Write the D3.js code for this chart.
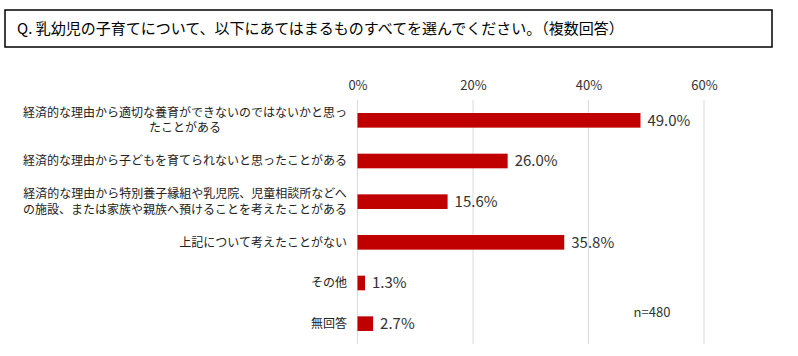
<!DOCTYPE html>
<html><head><meta charset="utf-8">
<script src="https://cdn.jsdelivr.net/npm/d3@7"></script>
<style>body{margin:0;background:#fff;} svg{display:block;}</style>
</head><body>
<svg id="c" width="798" height="356"></svg>
<script>
const titleText = "Q. 乳幼児の子育てについて、以下にあてはまるものすべてを選んでください。（複数回答）";
const categories = [
  ["経済的な理由から適切な養育ができないのではないかと思っ", "たことがある"],
  ["経済的な理由から子どもを育てられないと思ったことがある"],
  ["経済的な理由から特別養子縁組や乳児院、児童相談所などへ", "の施設、または家族や親族へ預けることを考えたことがある"],
  ["上記について考えたことがない"],
  ["その他"],
  ["無回答"]
];
const values = [49.0, 26.0, 15.6, 35.8, 1.3, 2.7];
const tickValues = [0, 20, 40, 60];
const noteText = "n=480";

const font = "'Noto Sans CJK JP','Noto Sans',sans-serif";
const svg = d3.select("#c");

// title box
svg.append("rect").attr("x",5).attr("y",10).attr("width",767).attr("height",37)
  .attr("fill","#fff").attr("stroke","#000").attr("stroke-width",1.5);
svg.append("text").attr("x",17).attr("y",34).attr("font-family",font)
  .attr("font-size",15).attr("fill","#000").text(titleText);

const x = d3.scaleLinear().domain([0,60]).range([357.5,704]);
const y = d3.scaleBand().domain(d3.range(categories.length)).range([100,344]).paddingInner(0.64).paddingOuter(0.32);

// gridlines
svg.append("g").selectAll("line").data(tickValues).join("line")
  .attr("x1",d=>x(d)).attr("x2",d=>x(d)).attr("y1",100).attr("y2",344)
  .attr("stroke","#d9d9d9").attr("stroke-width",1);

// top axis labels
const ax = svg.append("g").attr("transform","translate(0,93)")
  .call(d3.axisTop(x).tickValues(tickValues).tickFormat(d=>d+"%").tickSize(0));
ax.select(".domain").remove();
ax.selectAll("text").attr("font-family",font).attr("font-size",13).attr("fill","#333");

// bars
svg.append("g").selectAll("rect").data(values).join("rect")
  .attr("x",x(0)).attr("y",(d,i)=>y(i)).attr("width",d=>x(d)-x(0)).attr("height",y.bandwidth())
  .attr("fill","#c00000");

// value labels
svg.append("g").selectAll("text").data(values).join("text")
  .attr("x",d=>x(d)+7).attr("y",(d,i)=>y(i)+y.bandwidth()/2).attr("dy","0.36em")
  .attr("font-family",font).attr("font-size",15).attr("fill","#333")
  .text(d=>d.toFixed(1)+"%");

// category labels
const lab = svg.append("g");
categories.forEach((lines,i)=>{
  const cy = y(i)+y.bandwidth()/2;
  const lh = 15.5;
  const t = lab.append("text").attr("font-family",font).attr("font-size",12).attr("fill","#222");
  lines.forEach((l,j)=>{
    t.append("tspan").attr("y", cy + (j-(lines.length-1)/2)*lh).attr("dy","0.36em").text(l);
  });
  let maxW = 0;
  t.selectAll("tspan").each(function(){ maxW = Math.max(maxW, this.getComputedTextLength()); });
  const right = 347;
  const cx = right - maxW/2;
  t.attr("text-anchor","middle").selectAll("tspan").attr("x",cx);
});

svg.append("text").attr("x",652).attr("y",312).attr("dy","0.36em").attr("text-anchor","middle")
  .attr("font-family",font).attr("font-size",13).attr("fill","#333").text(noteText);
</script>
</body></html>
